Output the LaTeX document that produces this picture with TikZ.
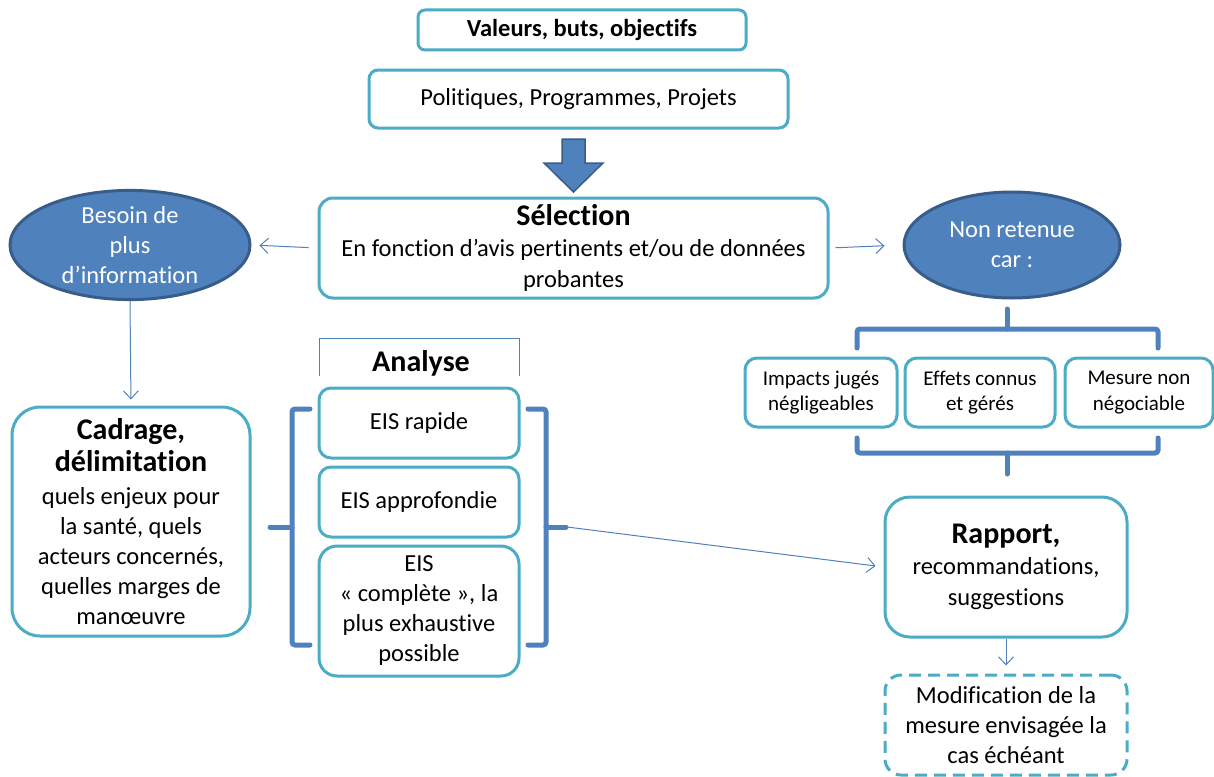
\documentclass[tikz,border=0pt]{standalone}
\usepackage{fontspec}
\setmainfont{Carlito}[Ligatures=NoCommon]
\usetikzlibrary{arrows.meta,shapes.geometric}
\definecolor{tealb}{HTML}{4BACC6}
\definecolor{blu}{HTML}{4F81BD}
\definecolor{dblu}{HTML}{385D8A}
\newcommand{\hdfont}{\fontsize{30}{35}\selectfont\bfseries}
\begin{document}
\begin{tikzpicture}[x=1pt,y=-1pt,
  txt/.style={font=\fontsize{24.5}{30}\selectfont},
  smalltxt/.style={font=\fontsize{21}{25.5}\selectfont},
  box/.style={draw=tealb, line width=3pt, rounded corners=9pt, fill=white,
    align=center, inner sep=2pt, txt},
  oval/.style={ellipse, draw=dblu, line width=3pt, fill=blu, text=white,
    align=center, inner sep=0pt, txt},
  link/.style={draw=blu, line width=1pt, -{Straight Barb[length=8pt,width=15pt]}},
  brace/.style={draw=blu, line width=5pt, rounded corners=3pt, line cap=round},
  headtxt/.style={font=\hdfont}
]
\useasboundingbox (0,0) rectangle (1214,776);

% top of the chain
\node[box, rounded corners=7pt, minimum width=328pt, minimum height=40pt,
      font=\fontsize{24.5}{28}\selectfont\bfseries] (val) at (582,30) {Valeurs, buts, objectifs};
\node[box, minimum width=419pt, minimum height=58pt] (pol) at (578.5,99) {Politiques, Programmes, Projets};

% block arrow
\draw[fill=blu, draw=dblu, line width=1.5pt, line join=miter]
  (562,139) -- (585,139) -- (585,163) -- (603,163) -- (573.5,192)
  -- (544,163) -- (562,163) -- cycle;

% selection
\node[box, rounded corners=14pt, minimum width=509pt, minimum height=100pt] (sel) at (573.5,248)
  {{\hdfont Sélection}\\[1pt] En fonction d’avis pertinents et/ou de données\\[1pt] probantes};

% ellipses
\node[oval, minimum width=240pt, minimum height=106pt] (besoin) at (130,245)
  {Besoin de\\ plus\\ d’information};
\node[oval, minimum width=216pt, minimum height=106pt] (nonret) at (1012,245)
  {Non retenue\\ car :};

% framing box
\node[box, rounded corners=28pt, minimum width=238pt, minimum height=229pt] (cad) at (131,521.5)
  {{\hdfont Cadrage,}\\[2pt] {\hdfont délimitation}\\[3pt] quels enjeux pour\\ la santé, quels\\ acteurs concernés,\\ quelles marges de\\ manœuvre};

% analysis group
\draw[blu, line width=0.8pt] (319,376) -- (319,338) -- (519,338) -- (519,376);
\node[headtxt] (ana) at (421,363) {Analyse};
\node[box, rounded corners=12pt, minimum width=200pt, minimum height=70pt] (eis1) at (419,423) {EIS rapide};
\node[box, rounded corners=12pt, minimum width=200pt, minimum height=70pt] (eis2) at (419,502) {EIS approfondie};
\node[box, rounded corners=18pt, minimum width=200pt, minimum height=130pt] (eis3) at (419,611)
  {EIS\\ «~complète~», la\\ plus exhaustive\\ possible};

\draw[brace] (310,409) -- (292,409) -- (292,645) -- (310,645);
\draw[brace] (292,527) -- (270,527);
\draw[brace] (528,409) -- (546,409) -- (546,645) -- (528,645);
\draw[brace] (546,527) -- (566,527);
\coordinate (rbtip) at (567,527);

% reasons for rejection
\draw[brace] (857,348) -- (857,329) -- (1158,329) -- (1158,348);
\draw[brace] (1007,329) -- (1007,309);
\node[box, smalltxt, rounded corners=12pt, minimum width=152pt, minimum height=69pt] (imp) at (821,392.5)
  {Impacts jugés\\ négligeables};
\node[box, smalltxt, rounded corners=12pt, minimum width=150pt, minimum height=69pt] (eff) at (980,392.5)
  {Effets connus\\ et gérés};
\node[box, smalltxt, rounded corners=12pt, minimum width=148pt, minimum height=69pt] (mes) at (1139,392.5)
  {Mesure non\\ négociable};
\draw[brace] (857,438) -- (857,453) -- (1158,453) -- (1158,438);
\draw[brace] (1007,453) -- (1007,474);

% report and follow-up
\node[box, rounded corners=25pt, minimum width=242pt, minimum height=140pt] (rap) at (1006,567)
  {{\hdfont Rapport,}\\[1pt] recommandations,\\[1pt] suggestions};
\node[box, rounded corners=16pt, dash pattern=on 12pt off 7pt, minimum width=242pt, minimum height=100pt] (mod) at (1006,725)
  {Modification de la\\ mesure envisagée la\\ cas échéant};

% connectors
\draw[link, shorten <=9pt, shorten >=8pt] (sel.west) -- (besoin.east);
\draw[link, shorten <=6pt, shorten >=18pt] (sel.east) -- (nonret.west);
\draw[link, shorten >=6pt] (besoin.south) -- (cad.north);
\draw[link, shorten >=8pt] (rbtip) -- (rap.west);
\draw[link, shorten >=8pt] (rap.south) -- (mod.north);
\end{tikzpicture}
\end{document}
